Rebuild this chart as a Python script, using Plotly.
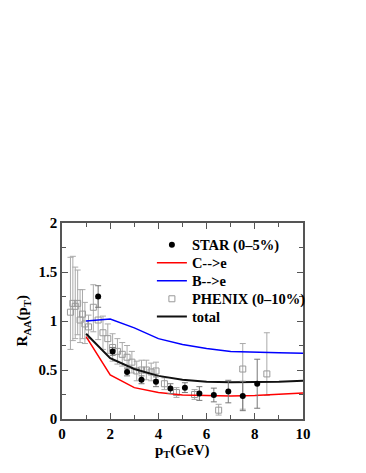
import plotly.graph_objects as go

# ---- data ----
star_x = [1.5, 2.1, 2.7, 3.3, 3.9, 4.5, 5.1, 5.7, 6.3, 6.9, 7.5, 8.1]
star_y = [1.25, 0.69, 0.48, 0.40, 0.38, 0.31, 0.32, 0.26, 0.245, 0.28, 0.235, 0.36]
star_err = [0.11, 0.04, 0.04, 0.04, 0.05, 0.05, 0.05, 0.07, 0.07, 0.115, 0.15, 0.25]

phenix_x = [0.35, 0.45, 0.55, 0.65, 0.75, 0.85, 0.95, 1.1, 1.3, 1.5, 1.7, 1.9, 2.1, 2.3,
            2.5, 2.7, 2.9, 3.1, 3.3, 3.5, 3.7, 3.9, 4.25, 4.75, 5.5, 6.5, 7.5, 8.5]
phenix_y = [1.09, 1.18, 1.15, 1.18, 1.01, 1.07, 0.97, 0.94, 1.14, 1.01, 0.88, 0.82, 0.73, 0.69,
            0.66, 0.63, 0.58, 0.49, 0.50, 0.50, 0.48, 0.49, 0.36, 0.27, 0.25, 0.09, 0.51, 0.46]
phenix_err_plus = [0.56, 0.48, 0.40, 0.34, 0.31, 0.25, 0.22, 0.12, 0.23, 0.22, 0.17, 0.15, 0.14, 0.13,
                   0.12, 0.12, 0.11, 0.10, 0.10, 0.10, 0.09, 0.09, 0.06, 0.05, 0.05, 0.06, 0.26, 0.42]
phenix_err_minus = [0.38, 0.38, 0.33, 0.32, 0.23, 0.25, 0.20, 0.12, 0.25, 0.20, 0.17, 0.15, 0.14, 0.13,
                    0.12, 0.12, 0.11, 0.10, 0.10, 0.10, 0.09, 0.09, 0.06, 0.05, 0.05, 0.05, 0.41, 0.22]

curve_x = [1, 2, 3, 4, 5, 6, 7, 8, 9, 10]
c_to_e = [0.84, 0.45, 0.32, 0.27, 0.245, 0.24, 0.235, 0.24, 0.25, 0.265]
b_to_e = [1.00, 1.02, 0.93, 0.82, 0.76, 0.72, 0.69, 0.68, 0.675, 0.67]
total = [0.87, 0.62, 0.51, 0.44, 0.40, 0.38, 0.375, 0.375, 0.38, 0.39]

x_tickvals = [0, 2, 4, 6, 8, 10]
x_ticktext = ["0", "2", "4", "6", "8", "10"]
y_tickvals = [0, 0.5, 1, 1.5, 2]
y_ticktext = ["0", "0.5", "1", "1.5", "2"]

FONT = "Liberation Serif, Times New Roman, serif"

fig = go.Figure()

fig.add_trace(go.Scatter(
    x=phenix_x, y=phenix_y, mode="markers", name="PHENIX (0\u201310%)",
    legend="legend4",
    marker=dict(symbol="square-open", size=6, color="#999999", line=dict(width=1)),
    error_y=dict(type="data", array=phenix_err_plus, arrayminus=phenix_err_minus,
                 color="#aaaaaa", thickness=1, width=3),
))
fig.add_trace(go.Scatter(x=curve_x, y=c_to_e, mode="lines", name="C-->e", legend="legend2",
                         line=dict(color="#ff0000", width=1.5)))
fig.add_trace(go.Scatter(x=curve_x, y=b_to_e, mode="lines", name="B-->e", legend="legend3",
                         line=dict(color="#0000ff", width=1.5)))
fig.add_trace(go.Scatter(x=curve_x, y=total, mode="lines", name="total", legend="legend5",
                         line=dict(color="#111111", width=2)))
fig.add_trace(go.Scatter(
    x=star_x, y=star_y, mode="markers", name="STAR (0\u20135%)", legend="legend",
    marker=dict(symbol="circle", size=6, color="#000000"),
    error_y=dict(type="data", array=star_err, color="#777777", thickness=1, width=3),
))

axis_common = dict(
    showline=True, linecolor="#555555", linewidth=1.5, mirror="ticks",
    ticks="inside", ticklen=6, tickcolor="#555555", tickwidth=1,
    showgrid=False, zeroline=False, automargin=False,
    tickfont=dict(family=FONT, size=15, color="#000000", weight="bold"),
)

fig.update_xaxes(range=[0, 10], tickvals=x_tickvals, ticktext=x_ticktext,
                 minor=dict(dtick=1, tick0=0, ticks="inside", ticklen=4, tickcolor="#555555"),
                 **axis_common)
fig.update_yaxes(range=[0, 2], tickvals=y_tickvals, ticktext=y_ticktext,
                 minor=dict(dtick=0.25, tick0=0, ticks="inside", ticklen=4, tickcolor="#555555"),
                 **axis_common)

title_font = dict(family=FONT, size=15, color="#000000", weight="bold")
fig.add_annotation(text="p<sub>T</sub>(GeV)", xref="paper", yref="paper", x=0.5, y=-0.165,
                   xanchor="center", yanchor="middle", showarrow=False, font=title_font)
fig.add_annotation(text="R<sub>AA</sub>(p<sub>T</sub>)", xref="paper", yref="paper",
                   x=-0.16, y=0.5, xanchor="center", yanchor="middle", textangle=-90,
                   showarrow=False, font=title_font)

legend_font = dict(family=FONT, size=14.5, color="#000000", weight="bold")
legend_y = {"legend": 0.889, "legend2": 0.797, "legend3": 0.705, "legend4": 0.613, "legend5": 0.522}
legend_layout = {}
for key, yv in legend_y.items():
    legend_layout[key] = dict(x=0.373, y=yv, xanchor="left", yanchor="middle",
                              bgcolor="rgba(0,0,0,0)", font=legend_font, itemwidth=30)

fig.update_layout(
    width=358, height=465,
    margin=dict(l=54, r=63, t=215, b=54),
    paper_bgcolor="white", plot_bgcolor="white",
    showlegend=True,
    **legend_layout,
)

fig.write_html("out.html")
